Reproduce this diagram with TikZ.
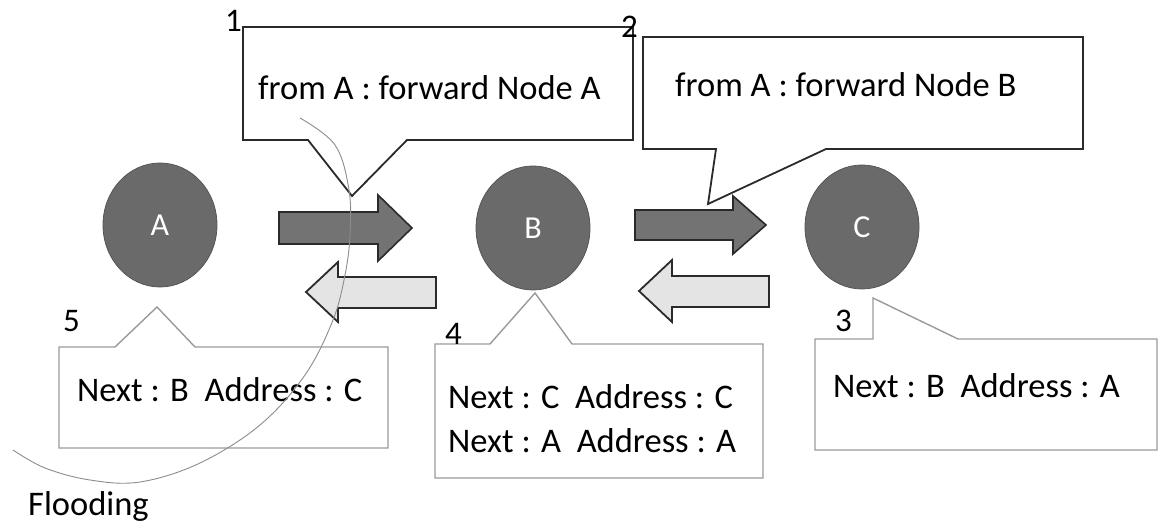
\documentclass[tikz,border=0pt]{standalone}
\usepackage{fontspec}
\setmainfont{Carlito}
\usetikzlibrary{shapes.geometric}
\definecolor{nodegray}{HTML}{6A6A6A}
\definecolor{fwdgray}{HTML}{737373}
\definecolor{backfill}{HTML}{E4E4E4}
\definecolor{darkedge}{HTML}{2A2A2A}
\definecolor{lightedge}{HTML}{9A9A9A}
\definecolor{arcgray}{HTML}{8C8C8C}
\tikzset{
  netnode/.style={ellipse, fill=nodegray, draw=nodegray!80!black, line width=0.8pt,
    minimum width=114pt, minimum height=124pt, text=white, inner sep=0pt,
    font=\fontsize{32}{36}\selectfont},
  fwdarrow/.style={fill=fwdgray, draw=darkedge, line width=1.6pt, line join=miter},
  backarrow/.style={fill=backfill, draw=darkedge, line width=1.8pt, line join=miter},
  msgcallout/.style={fill=white, draw=darkedge, line width=1.8pt, line join=miter},
  tablecallout/.style={fill=white, draw=lightedge, line width=1.4pt, line join=miter},
  lbl/.style={anchor=base west, inner sep=0pt, font=\fontsize{34.5}{40}\selectfont},
  num/.style={anchor=base west, inner sep=0pt, font=\fontsize{33}{38}\selectfont},
}
\begin{document}
\begin{tikzpicture}[x=1pt, y=-1pt]
\useasboundingbox (0,0) rectangle (1159,526);

% network nodes
\node[netnode] (A) at (160,225) {A};
\node[netnode] (B) at (533,228) {B};
\node[netnode] (C) at (862,227) {C};

% forward block arrows A -> B -> C
\draw[fwdarrow] (279,212) -- (378,212) -- (378,195) -- (412,228) -- (378,261) -- (378,244) -- (279,244) -- cycle;
\draw[fwdarrow] (635,210) -- (733,210) -- (733,196) -- (766,225) -- (733,254) -- (733,240) -- (635,240) -- cycle;

% return block arrows C -> B -> A
\draw[backarrow] (436,277) -- (338,277) -- (338,262) -- (306,292) -- (338,322) -- (338,308) -- (436,308) -- cycle;
\draw[backarrow] (769,276) -- (672,276) -- (672,260) -- (639,291) -- (672,322) -- (672,307) -- (769,307) -- cycle;

% message callouts
\draw[msgcallout] (243,27) -- (633,27) -- (633,140) -- (407,140) -- (352,196) -- (308,140) -- (243,140) -- cycle;
\draw[msgcallout] (643,37) -- (1083,37) -- (1083,149) -- (826,149) -- (708,204) -- (716,149) -- (643,149) -- cycle;
\node[lbl] (m1) at (258,100) {from A : forward Node A};
\node[lbl] (m2) at (675,97) {from A : forward Node B};

% routing table callouts
\draw[tablecallout] (59,347) -- (115,347) -- (157,307) -- (195,347) -- (388,347) -- (388,448) -- (59,448) -- cycle;
\draw[tablecallout] (435,344) -- (490,344) -- (535,293) -- (572,344) -- (763,344) -- (763,478) -- (435,478) -- cycle;
\draw[tablecallout] (815,339) -- (873,339) -- (873,298) -- (958,339) -- (1157,339) -- (1157,450) -- (815,450) -- cycle;
\node[lbl] (t5) at (77,401) {Next : B\ \ Address : C};
\node[lbl] (t4a) at (448,408) {Next : C\ \ Address : C};
\node[lbl] (t4b) at (448,452) {Next : A\ \ Address : A};
\node[lbl] (t3) at (833,397) {Next : B\ \ Address : A};

% step numbers
\node[num] (n1) at (225,32) {1};
\node[num] (n2) at (621,38) {2};
\node[num] (n3) at (835,332) {3};
\node[num] (n4) at (445,345) {4};
\node[num] (n5) at (63,332) {5};

% flooding sweep
\draw[arcgray, line width=0.9pt] plot[smooth, tension=0.6] coordinates {
  (300,118) (335,145) (349,190) (350,235) (345,275) (333,320) (305,375)
  (260,425) (200,463) (140,482) (90,480) (45,468) (13,450)};
\node[lbl] (fl) at (28,515) {Flooding};
\end{tikzpicture}
\end{document}
